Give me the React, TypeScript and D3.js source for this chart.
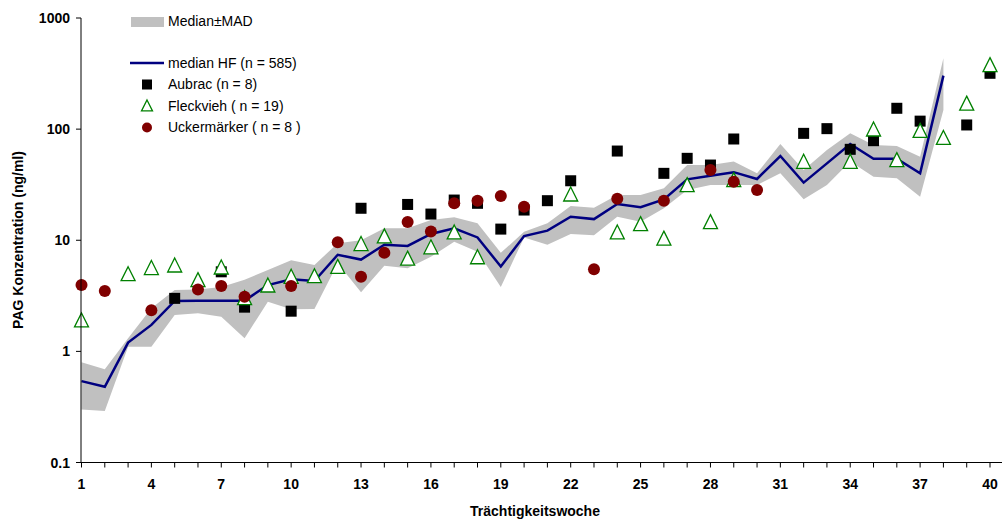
import React from "react";
import * as d3 from "d3";

// Weeks 1..38 for the HF median and MAD band
const medianWeeks = d3.range(1, 39);
const medianHF = [0.54, 0.48, 1.2, 1.73, 2.84, 2.86, 2.86, 2.86, 3.95, 4.45, 4.3, 7.4, 6.7, 9.1, 8.9, 11.4, 12.8, 10.6, 5.8, 10.9, 12.2, 16.3, 15.5, 21.2, 19.8, 23.3, 35.3, 38.1, 41, 35.6, 57.3, 33, 49.2, 73.4, 54.2, 54.2, 40, 303];
const madUpper = [0.8, 0.69, 1.31, 2.44, 3.56, 3.6, 3.8, 4.4, 5.4, 6.6, 6.0, 9.4, 10.0, 12.8, 12.8, 15.2, 16.1, 14.2, 7.7, 11.9, 14.2, 20.3, 19.6, 25.5, 25.5, 29.3, 47.5, 47.5, 51, 40, 73.4, 42.8, 64.9, 91.6, 71.9, 70.5, 56.5, 434];
const madLower = [0.3, 0.29, 1.1, 1.1, 2.12, 2.2, 2.05, 1.31, 2.8, 2.39, 2.4, 6.2, 3.4, 5.9, 5.6, 7.1, 9.7, 7.9, 3.8, 10.6, 9.1, 11.4, 11.1, 16.3, 14.7, 19.4, 28.3, 31.4, 31.4, 31.4, 40, 23.4, 31.4, 51, 37.3, 36.1, 24.6, 149];

const aubracWeeks = [5, 7, 8, 10, 13, 15, 16, 17, 18, 19, 20, 21, 22, 24, 26, 27, 28, 29, 32, 33, 34, 35, 36, 37, 39, 40];
const aubracValues = [3.0, 5.2, 2.5, 2.3, 19.4, 21, 17.2, 23, 21.5, 12.6, 18.7, 22.7, 34.3, 63.5, 40, 54.6, 47.5, 81.5, 91.6, 101, 65.8, 78.7, 154, 118, 109, 318];

const fleckWeeks = [1, 3, 4, 5, 6, 7, 8, 9, 10, 11, 12, 13, 14, 15, 16, 17, 18, 22, 24, 25, 26, 27, 28, 29, 32, 34, 35, 36, 37, 38, 39, 40];
const fleckValues = [1.89, 4.93, 5.6, 5.9, 4.36, 5.66, 3.0, 3.9, 4.67, 4.73, 5.74, 9.2, 10.8, 6.8, 8.6, 11.7, 7.0, 25.7, 11.7, 13.9, 10.3, 31.2, 14.5, 34.6, 50.6, 50.6, 98.8, 52.4, 96, 83, 169, 375];

const uckerWeeks = [1, 2, 4, 6, 7, 8, 10, 12, 13, 14, 15, 16, 17, 18, 19, 20, 23, 24, 26, 28, 29, 30];
const uckerValues = [3.95, 3.5, 2.35, 3.6, 3.87, 3.1, 3.87, 9.6, 4.7, 7.7, 14.6, 12.0, 21.5, 22.7, 25, 20, 5.47, 23.6, 22.7, 42.8, 33.6, 28.3];

const yTicks = [0.1, 1, 10, 100, 1000];
const xTickLabels = [1, 4, 7, 10, 13, 16, 19, 22, 25, 28, 31, 34, 37, 40];

const legendItems = ["median HF (n = 585)", "Aubrac (n = 8)", "Fleckvieh ( n = 19)", "Uckermärker ( n = 8 )"];

const W = 1004;
const H = 522;
const FONT = "'Liberation Sans', Arial, sans-serif";

export default function App() {
  const x = d3.scaleLinear().domain([1, 40]).range([81.5, 990]);
  const y = d3.scaleLog().domain([0.1, 1000]).range([462.5, 18]);

  const band = d3
    .area<number>()
    .x((_, i) => x(medianWeeks[i]))
    .y0((_, i) => y(madLower[i]))
    .y1((_, i) => y(madUpper[i]));
  const line = d3
    .line<number>()
    .x((_, i) => x(medianWeeks[i]))
    .y((d) => y(d));

  const tri = d3.symbol().type(d3.symbolTriangle).size(85)();
  const triPath = (s: number) => {
    const h = s;
    const w = s;
    return `M0,${-h * 0.55}L${w / 2},${h * 0.45}L${-w / 2},${h * 0.45}Z`;
  };
  void tri;

  const xTicks = d3.range(1, 41);
  const axisY = y(0.1);

  return (
    <svg
      width={W}
      height={H}
      style={{ position: "absolute", left: 0, top: 0, background: "#fff" }}
      fontFamily={FONT}
    >
      <rect width={W} height={H} fill="#fff" />
      {/* band */}
      <path d={band(medianHF) || ""} fill="#c0c0c0" />
      <path d={line(medianHF) || ""} fill="none" stroke="#000080" strokeWidth={2.5} strokeLinejoin="miter" />

      {/* Aubrac squares */}
      {aubracWeeks.map((w, i) => (
        <rect key={"a" + i} x={x(w) - 5.5} y={y(aubracValues[i]) - 5.5} width={11} height={11} fill="#000" />
      ))}
      {/* Fleckvieh triangles */}
      {fleckWeeks.map((w, i) => (
        <path
          key={"f" + i}
          d={triPath(14)}
          transform={`translate(${x(w)},${y(fleckValues[i])})`}
          fill="#fff"
          stroke="#008000"
          strokeWidth={1.3}
        />
      ))}
      {/* Uckermärker circles */}
      {uckerWeeks.map((w, i) => (
        <circle key={"u" + i} cx={x(w)} cy={y(uckerValues[i])} r={6} fill="#800000" />
      ))}

      {/* Y axis */}
      <line x1={81} x2={81} y1={18} y2={axisY} stroke="#000" strokeWidth={1} />
      {yTicks.map((t) => (
        <g key={"yt" + t}>
          <line x1={76} x2={81} y1={y(t)} y2={y(t)} stroke="#000" />
          <text x={70} y={y(t) + 5} textAnchor="end" fontSize={14} fontWeight="bold">
            {String(t)}
          </text>
        </g>
      ))}
      <text
        transform={`translate(23,${240}) rotate(-90)`}
        textAnchor="middle"
        fontSize={14}
        fontWeight="bold"
      >
        PAG Konzentration (ng/ml)
      </text>

      {/* X axis */}
      <line x1={81} x2={1002} y1={axisY} y2={axisY} stroke="#000" strokeWidth={1} />
      {xTicks.map((t) => (
        <line key={"xt" + t} x1={x(t)} x2={x(t)} y1={axisY} y2={axisY + 5} stroke="#000" />
      ))}
      {xTickLabels.map((t) => (
        <text key={"xl" + t} x={x(t)} y={489} textAnchor="middle" fontSize={14} fontWeight="bold">
          {t}
        </text>
      ))}
      <text x={535} y={516} textAnchor="middle" fontSize={14} fontWeight="bold">
        Trächtigkeitswoche
      </text>

      {/* Legend */}
      <rect x={131} y={17} width={33} height={10} fill="#c0c0c0" />
      <text x={168} y={26} fontSize={14}>
        Median±MAD
      </text>
      <line x1={130} x2={164} y1={63} y2={63} stroke="#000080" strokeWidth={2.5} />
      <rect x={142} y={79.5} width={10} height={10} fill="#000" />
      <path d={triPath(11)} transform="translate(147,106)" fill="#fff" stroke="#008000" strokeWidth={1.3} />
      <circle cx={147} cy={127.5} r={5} fill="#800000" />
      {legendItems.map((s, i) => (
        <text key={"lg" + i} x={168} y={68 + i * 21.3} fontSize={14}>
          {s}
        </text>
      ))}
    </svg>
  );
}
